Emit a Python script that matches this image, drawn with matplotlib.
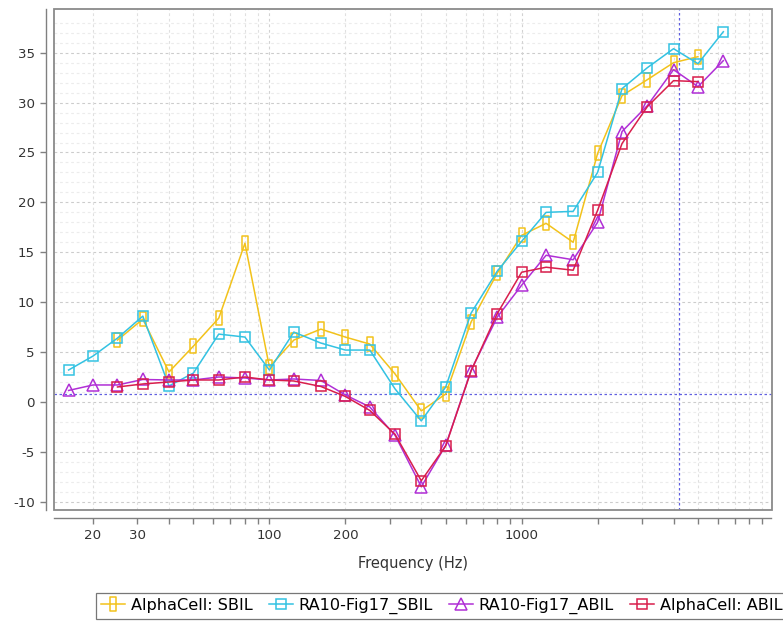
import numpy as np
import matplotlib
matplotlib.use('Agg')
import matplotlib.pyplot as plt
from matplotlib.path import Path
from matplotlib.patches import Rectangle

plt.rcParams['axes.unicode_minus'] = False

# third-octave band centre frequencies (Hz)
freqs = [16, 20, 25, 31.5, 40, 50, 63, 80, 100, 125, 160, 200, 250, 315, 400,
         500, 630, 800, 1000, 1250, 1600, 2000, 2500, 3150, 4000, 5000, 6300]

# insertion loss curves (dB), None where the band was not measured
alpha_sbil = [None, None, 6.2, 8.3, 3.0, 5.6, 8.4, 15.9, 3.5, 6.2, 7.3, 6.5, 5.8, 2.8,
              -0.9, 0.8, 8.0, 12.9, 16.7, 17.9, 16.0, 24.9, 30.7, 32.3, 34.0, 34.6, None]
ra10_sbil = [3.2, 4.6, 6.4, 8.6, 1.6, 2.9, 6.8, 6.5, 3.2, 7.0, 5.9, 5.2, 5.2, 1.3,
             -1.9, 1.5, 8.9, 13.1, 16.1, 19.0, 19.1, 23.0, 31.4, 33.5, 35.4, 33.9, 37.1]
ra10_abil = [1.15, 1.7, 1.7, 2.25, 2.2, 2.2, 2.5, 2.4, 2.2, 2.3, 2.15, 0.7, -0.5, -3.35,
             -8.5, -4.35, 3.15, 8.5, 11.7, 14.7, 14.25, 18.0, 27.1, 29.7, 33.3, 31.6, 34.2]
alpha_abil = [None, None, 1.5, 1.8, 2.0, 2.2, 2.2, 2.5, 2.2, 2.1, 1.55, 0.55, -0.85, -3.25,
              -7.9, -4.4, 3.1, 8.85, 13.0, 13.5, 13.2, 19.2, 25.9, 29.6, 32.2, 32.1, None]

labels = ['AlphaCell: SBIL', 'RA10-Fig17_SBIL', 'RA10-Fig17_ABIL', 'AlphaCell: ABIL']
colors = ['#f2c21b', '#33c2e2', '#b02fd6', '#d81e4c']

xtick_pos = [20, 30, 40, 50, 60, 70, 80, 90, 100, 200, 300, 400, 500, 600, 700, 800, 900,
             1000, 2000, 3000, 4000, 5000, 6000, 7000, 8000, 9000]
xtick_shown = [20, 30, 100, 200, 1000]

# crosshair position
cross_x, cross_y = 4200, 0.75


def arr(v):
    return np.array([np.nan if a is None else a for a in v], dtype=float)


# tall thin rectangle marker
vrect = Path([(-0.22, -0.5), (0.22, -0.5), (0.22, 0.5), (-0.22, 0.5), (-0.22, -0.5)],
             [Path.MOVETO, Path.LINETO, Path.LINETO, Path.LINETO, Path.CLOSEPOLY])

fig = plt.figure(figsize=(7.83, 6.21), dpi=100)
W, H = 783, 621
ax = fig.add_axes([53.5 / W, (H - 510) / H, (771.5 - 53.5) / W, (510 - 9) / H])

ax.set_xscale('log')
ax.set_xlim(13.94, 9780)
ax.set_ylim(-10.83, 39.38)

# grid
ax.set_yticks(np.arange(-10, 36, 5))
for y in np.arange(-10, 39, 1):
    major = (y % 5 == 0)
    ax.axhline(y, color='#cccccc' if major else '#ececec', lw=0.8,
               ls=(0, (2.5, 2.5)), zorder=0)
for x in xtick_pos:
    ax.axvline(x, color='#d2d2d2' if x in (100, 1000) else '#e0e0e0', lw=0.8,
               ls=(0, (2.5, 2.5)), zorder=0)

ax.set_xticks(xtick_pos)
ax.set_xticklabels([str(x) if x in xtick_shown else '' for x in xtick_pos])
ax.xaxis.set_minor_locator(matplotlib.ticker.NullLocator())
ax.yaxis.set_minor_locator(matplotlib.ticker.NullLocator())

# crosshair
ax.axvline(cross_x, color='#6060e0', lw=0.9, ls=(0, (2, 2)), zorder=1)
ax.axhline(cross_y, color='#6060e0', lw=0.9, ls=(0, (2, 2)), zorder=1)

series = [alpha_sbil, ra10_sbil, ra10_abil, alpha_abil]
markers = [vrect, 's', '^', 's']
msizes = [10.5, 7.8, 8.2, 7.8]
handles = []
f = np.array(freqs)
for vals, lab, c, m, ms in zip(series, labels, colors, markers, msizes):
    h, = ax.plot(f, arr(vals), color=c, lw=1.1, marker=m, ms=ms, mfc='none',
                 mec=c, mew=1.1, label=lab, zorder=3)
    handles.append(h)

# axis lines drawn apart from the plot outline
for s in ['top', 'right']:
    ax.spines[s].set_visible(False)
for s in ['left', 'bottom']:
    ax.spines[s].set_position(('outward', 5.5))
    ax.spines[s].set_color('#808080')
    ax.spines[s].set_linewidth(1.0)
ax.add_patch(Rectangle((0, 0), 1, 1, transform=ax.transAxes, fill=False,
                       edgecolor='#8a8a8a', lw=1.3, clip_on=False, zorder=5))

ax.tick_params(axis='both', colors='#808080', labelcolor='#333333', labelsize=9.6,
               length=4, width=1.0, direction='out', pad=4)
ax.set_xlabel('Frequency (Hz)', fontsize=10.5, color='#333333', labelpad=10)

leg = fig.legend(handles=handles, loc='lower left', bbox_to_anchor=(96 / W, 2 / H),
                 ncol=4, frameon=True, fancybox=False, edgecolor='#555555',
                 fontsize=11.6, handlelength=1.5, handletextpad=0.35,
                 columnspacing=1.0, borderpad=0.3, borderaxespad=0)
leg.get_frame().set_linewidth(0.9)

fig.savefig('out.png', dpi=100)
